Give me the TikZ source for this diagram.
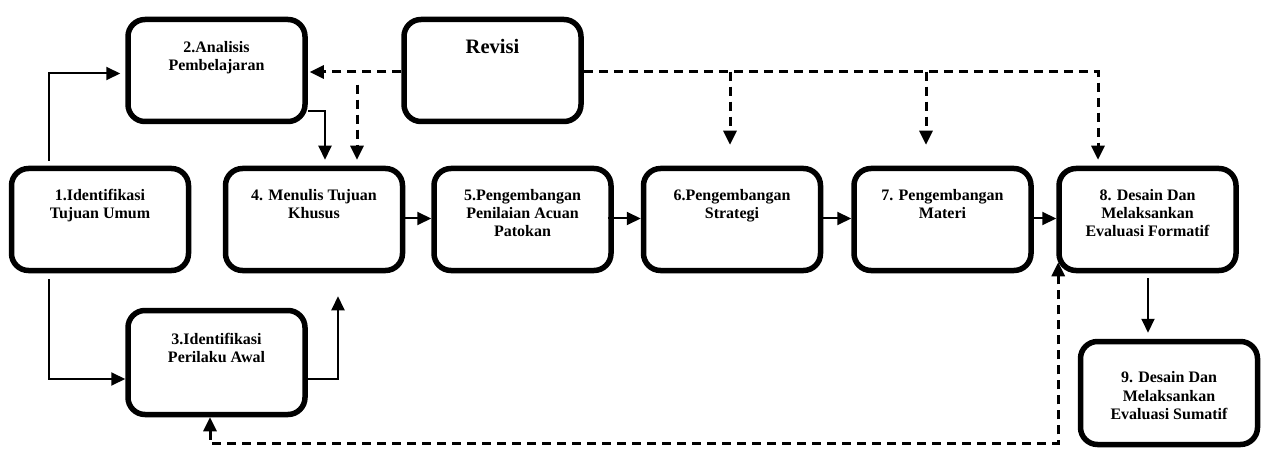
\documentclass[tikz,border=0pt]{standalone}
\usepackage{fontspec}
\setmainfont{Liberation Serif}
\usetikzlibrary{arrows.meta,calc}
\newcommand{\bxt}[3][16]{\parbox[c][102pt][t]{172pt}{\fontsize{#1}{18.3}\selectfont\bfseries\centering\vspace*{#2pt}\strut #3\par}}
\begin{document}
\begin{tikzpicture}[x=1pt,y=-1pt,
  stepbox/.style={draw, line width=5.5pt, rounded corners=17pt, minimum width=177pt, minimum height=102pt, inner sep=0pt},
  conn/.style={line width=2pt, -{Triangle[length=14pt,width=13pt]}},
  dconn/.style={line width=3pt, dash pattern=on 9pt off 6pt, -{Triangle[length=14pt,width=13pt]}},
  dline/.style={line width=3pt, dash pattern=on 9pt off 6pt}]
\useasboundingbox (0,0) rectangle (1261,449);
\node[stepbox] (B1) at (100,219.5) {\bxt{19}{1.Identifikasi\\Tujuan Umum}};
\node[stepbox] (B2) at (216.5,70.5) {\bxt{20}{2.Analisis\\Pembelajaran}};
\node[stepbox] (Rev) at (492.5,70.5) {\bxt[20.5]{20}{Revisi}};
\node[stepbox, minimum height=104pt] (B3) at (216.5,362.5) {\bxt{20}{3.Identifikasi\\Perilaku Awal}};
\node[stepbox] (B4) at (314,219.5) {\bxt{19}{4. Menulis Tujuan\\Khusus}};
\node[stepbox] (B5) at (522.5,219.5) {\bxt{19}{5.Pengembangan\\Penilaian Acuan\\Patokan}};
\node[stepbox] (B6) at (732,219.5) {\bxt{19}{6.Pengembangan\\Strategi}};
\node[stepbox] (B7) at (942.5,219.5) {\bxt{19}{7. Pengembangan\\Materi}};
\node[stepbox] (B8) at (1147.5,219.5) {\bxt{19}{8. Desain Dan\\Melaksankan\\Evaluasi Formatif}};
\node[stepbox, minimum height=103pt] (B9) at (1169,393) {\bxt{28}{9. Desain Dan\\Melaksankan\\Evaluasi Sumatif}};
% solid connectors
\draw[conn] ($(B1.north)+(-51,-5)$) |- ($(B2.west)+(-5,3)$);
\draw[conn] ($(B1.south)+(-51,6)$) |- ($(B3.west)+(0,16.5)$);
\draw[conn] ($(B3.east)+(0,16.5)$) -| ($(B4.south)+(24,23)$);
\draw[conn] ($(B2.east)+(0,40.5)$) -| ($(B4.north)+(11,-6)$);
\draw[conn] ($(B4.east)+(0,-1)$) -- ($(B5.west)+(0,-1)$);
\draw[conn] ($(B5.east)+(-6,-1)$) -- ($(B6.west)+(0,-1)$);
\draw[conn] ($(B6.east)+(0,-1)$) -- ($(B7.west)+(0,-1)$);
\draw[conn] ($(B7.east)+(0,-1)$) -- ($(B8.west)+(0,-1)$);
\draw[conn] ($(B8.south)+(0.5,5)$) -- ($(B9.north)+(-21,-6)$);
% dashed revision connectors
\draw[dconn] ($(Rev.west)+(0,1.5)$) -- ($(B2.east)+(2,1.5)$);
\draw[dconn] ($(B4.north)+(43,-81)$) -- ($(B4.north)+(43,-6)$);
\draw[dconn] ($(Rev.east)+(0,1.5)$) -| ($(B8.north)+(-49.5,-6)$);
\draw[dconn] ($(B6.north)+(-2,-94)$) -- ($(B6.north)+(-2,-21)$);
\draw[dconn] ($(B7.north)+(-16.5,-94)$) -- ($(B7.north)+(-16.5,-21)$);
% dashed feedback
\draw[dline, {Triangle[length=14pt,width=13pt]}-{Triangle[length=14pt,width=13pt]}] ($(B3.south)+(-6.5,0)$) |- ($(B8.south west)+(2,170)$) -- ($(B8.south west)+(2,-11)$);
\end{tikzpicture}
\end{document}
